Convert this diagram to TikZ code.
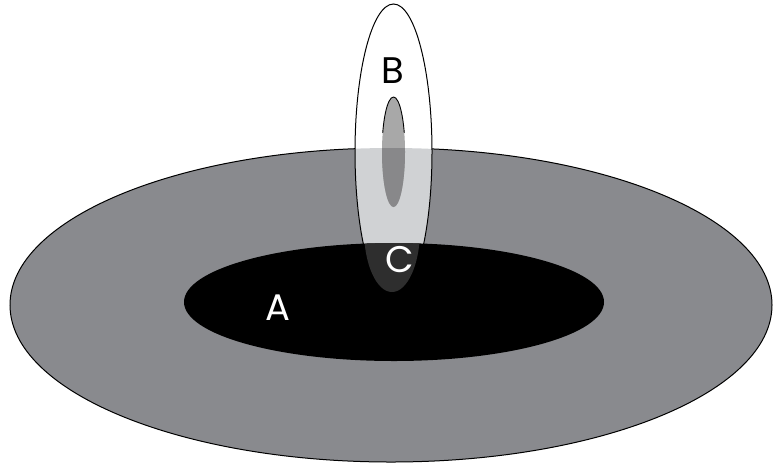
\documentclass[tikz,border=0pt]{standalone}
\usepackage{fontspec}
\setmainfont{Poppins}
\definecolor{disc}{RGB}{137,138,142}
\definecolor{plumelight}{RGB}{208,210,212}
\definecolor{coreupper}{RGB}{168,168,168}
\definecolor{corelower}{RGB}{136,136,138}
\definecolor{cdark}{RGB}{46,46,46}
\tikzset{
  lbl/.style={font=\fontsize{37}{40}\selectfont, inner sep=0pt},
  outline/.style={draw=black, line width=1pt}
}
\begin{document}
\begin{tikzpicture}[x=1pt,y=-1pt]
\useasboundingbox (0,0) rectangle (773,467);
\def\disc{(391,305) ellipse [x radius=381, y radius=157]}
\def\hole{(394,302) ellipse [x radius=210, y radius=59]}
\def\plume{(393.5,152) ellipse [x radius=38.5, y radius=148]}
\def\core{(393.5,152) ellipse [x radius=11.5, y radius=55]}
% outer disc
\fill[disc] \disc;
\draw[outline] \disc;
% plume
\fill[white] \plume;
\begin{scope}
  \clip \disc;
  \fill[plumelight] \plume;
\end{scope}
\draw[outline] \plume;
% core
\fill[coreupper] \core;
\begin{scope}
  \clip \disc;
  \fill[corelower] \core;
\end{scope}
\begin{scope}
  \clip (350,0) rectangle (440,132);
  \draw[black, line width=0.9pt] \core;
\end{scope}
% inner black region
\fill[black] \hole;
\begin{scope}
  \clip \hole;
  \fill[cdark] (392,230) ellipse [x radius=28, y radius=62];
\end{scope}
% labels
\node[lbl, text=black] (B) at (393,71) {B};
\node[lbl, text=white] (A) at (278,308) {A};
\node[lbl, text=white] (C) at (400,260) {C};
\end{tikzpicture}
\end{document}
